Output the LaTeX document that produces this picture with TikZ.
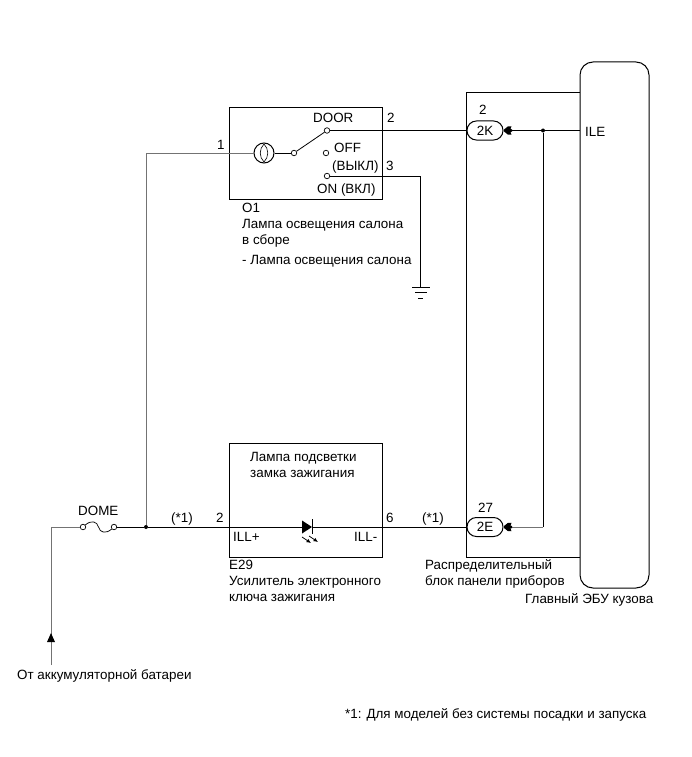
\documentclass[tikz,border=0pt]{standalone}
\usepackage{fontspec}
\setmainfont{Liberation Sans}
\usetikzlibrary{arrows.meta}
\tikzset{
  wire/.style={line width=0.8pt},
  wirepale/.style={line width=0.8pt, color=black!55},
  frame/.style={line width=1pt},
  lbl/.style={font=\fontsize{13.4}{15}\selectfont, inner sep=0pt, anchor=base west},
  lblstack/.style={lbl, font=\fontsize{13.4}{16}\selectfont, align=left, anchor=north west},
  contact/.style={circle, draw, fill=white, inner sep=0pt, minimum size=5.5pt, line width=0.7pt},
  dotnode/.style={circle, fill=black, inner sep=0pt, minimum size=4pt},
  pill/.style={draw, fill=white, rounded corners=9.4pt, minimum width=36pt, minimum height=19pt, inner sep=0pt, line width=1pt, font=\fontsize{13.4}{15}\selectfont}
}
\newcommand{\forktip}[2]{\fill (#1+1,#2-1) -- (#1+5,#2-4.2) -- (#1+8.5,#2-4.2) -- (#1+7.5,#2-1.5) -- (#1+9,#2-1) -- (#1+9,#2+1) -- (#1+7.5,#2+1.5) -- (#1+8.5,#2+4.2) -- (#1+5,#2+4.2) -- (#1+1,#2+1) -- cycle;}
\begin{document}
\begin{tikzpicture}[x=1pt,y=-1pt]
  \useasboundingbox (0,0) rectangle (691,757);
  % component frames
  \node[draw, frame, minimum width=153pt, minimum height=91pt, inner sep=0pt] (lampbox) at (305.5,153.5) {};
  \node[draw, frame, minimum width=153pt, minimum height=114pt, inner sep=0pt] (keybox) at (305.5,500) {};
  \coordinate (ipnw) at (466,93);
  \coordinate (ipne) at (580,93);
  \coordinate (ipsw) at (466,557);
  \coordinate (ipse) at (580,557);
  \draw[frame] (ipne) -- (ipnw) -- (ipsw) -- (ipse);
  \node[draw, frame, rounded corners=13pt, minimum width=69pt, minimum height=526pt, inner sep=0pt] (ecu) at (614.5,325) {};

  % wire points
  \coordinate (battend) at (51,665);
  \coordinate (battcorner) at (51,527);
  \coordinate (topcorner) at (146,153);
  \coordinate (oncorner) at (420,176);
  \coordinate (gndtop) at (420,287);
  \coordinate (ilepin) at (580,130.5);
  \coordinate (lowcorner) at (543,527);
  \coordinate (fusemid) at (98.5,527);

  % parts
  \node[contact] (fusea) at (83,527) {};
  \node[contact] (fuseb) at (114,527) {};
  \node[dotnode] (tee) at (146,527) {};
  \node[dotnode] (ilejoin) at (543,130.5) {};
  \node[circle, draw, line width=1pt, minimum size=20pt, inner sep=0pt] (lamp) at (264,153) {};
  \node[contact] (pivot) at (294,153) {};
  \node[contact] (door) at (327,130.5) {};
  \node[contact] (off) at (326,153) {};
  \node[contact] (on) at (327,176) {};
  \node[pill] (pk) at (485,130.5) {2K};
  \node[pill] (pe) at (485,527) {2E};
  \coordinate (diodeleft) at (302,527);
  \coordinate (dioderight) at (312,527);

  % wires
  \draw[wirepale] (battend) -- (battcorner) -- (fusea);
  \draw[wirepale] (tee) -- (topcorner) -- (lamp);
  \draw[wire] (fuseb) -- (tee);
  \draw[wire] (tee) -- (diodeleft);
  \draw[wire] (dioderight) -- (pe);
  \draw[wire] (lamp) -- (pivot);
  \draw[wire] (pivot) -- (door);
  \draw[wire] (door) -- (pk);
  \draw[wire] (on) -- (oncorner) -- (gndtop);
  \draw[wire] (pk) -- (ilepin);
  \draw[wire] (ilejoin) -- (lowcorner);
  \draw[wirepale] (lowcorner) -- (pe);

  % fuse, lamp filament, diode, ground, tips
  \draw[line width=0.7pt] (fusea) .. controls (91,520) and (97,521) .. (fusemid) .. controls (100,533) and (106,534) .. (fuseb);
  \draw[line width=0.6pt] (264,144) .. controls (259,149) and (259,157) .. (264,162) .. controls (269,157) and (269,149) .. (264,144);
  \fill (diodeleft) ++(0,-6.5) -- (312,527) -- (302,533.5) -- cycle;
  \draw[line width=1pt] (312,519) -- (312,534);
  \draw[line width=0.8pt, -{Latex[length=4.5pt,width=4pt]}] (302,537) -- (311,543);
  \draw[line width=0.8pt, -{Latex[length=4.5pt,width=4pt]}] (309,536) -- (318,542);
  \draw[line width=0.8pt] (412,287) -- (430,287);
  \draw[line width=0.8pt] (415,292) -- (427,292);
  \draw[line width=0.8pt] (418,298) -- (423,298);
  \fill (51,633) -- (47,642) -- (55,642) -- cycle;
  \forktip{503}{130.5}
  \forktip{503}{527}

  % labels
  \node[lbl] (lbldoor) at (313,123) {DOOR};
  \node[lbl] (lbloff) at (334,153) {OFF};
  \node[lbl] (lblvykl) at (332,170) {(ВЫКЛ)};
  \node[lbl] (lblon) at (317,193) {ON (ВКЛ)};
  \node[lbl] (pinlampa) at (217,149) {1};
  \node[lbl] (pinlampb) at (387,122) {2};
  \node[lbl] (pinlampc) at (386,170) {3};
  \node[lblstack] (lamptitle) at (242,203.4) {O1\\Лампа освещения салона\\в сборе};
  \node[lbl] (lampnote) at (242,264) {- Лампа освещения салона};
  \node[lbl] (pinka) at (479,115) {2};
  \node[lbl] (pinea) at (478,512) {27};
  \node[lbl] (lblile) at (585,136) {ILE};
  \node[lblstack] (keytitle) at (250,452.4) {Лампа подсветки\\замка зажигания};
  \node[lbl] (pinkeya) at (216,522) {2};
  \node[lbl] (pinkeyb) at (386,522) {6};
  \node[lbl] (lblillp) at (233,541) {ILL+};
  \node[lbl] (lblillm) at (354,541) {ILL-};
  \node[lblstack] (keyname) at (229,560.4) {E29\\Усилитель электронного\\ключа зажигания};
  \node[lbl] (lbldome) at (78,515) {DOME};
  \node[lbl] (notea) at (171,522) {(*1)};
  \node[lbl] (noteb) at (422,522) {(*1)};
  \node[lblstack] (ipname) at (425,559.4) {Распределительный\\блок панели приборов};
  \node[lbl] (ecuname) at (525,603) {Главный ЭБУ кузова};
  \node[lbl] (battname) at (17,679) {От аккумуляторной батареи};
  \node[lbl] (footnote) at (345,718) {*1: Для моделей без системы посадки и запуска};
\end{tikzpicture}
\end{document}
